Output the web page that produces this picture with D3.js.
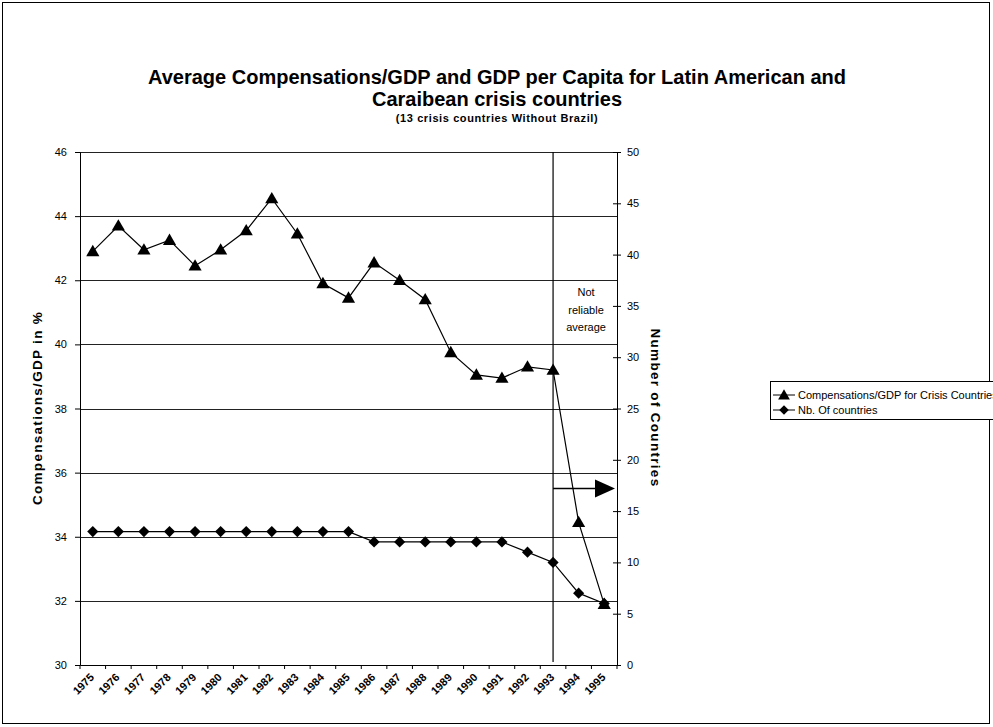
<!DOCTYPE html>
<html>
<head>
<meta charset="utf-8">
<script src="https://cdn.jsdelivr.net/npm/d3@7"></script>
<style>
  html, body { margin: 0; padding: 0; background: #fff; }
  svg { display: block; font-family: "Liberation Sans", Arial, sans-serif; }
</style>
</head>
<body>
<svg id="chart" width="993" height="727"></svg>
<script>
// ---- data ----
const years = ["1975","1976","1977","1978","1979","1980","1981","1982","1983","1984","1985",
               "1986","1987","1988","1989","1990","1991","1992","1993","1994","1995"];
const compensations = [42.9, 43.7, 42.95, 43.25, 42.45, 42.95, 43.55, 44.55, 43.45, 41.9, 41.45,
                       42.55, 42.0, 41.4, 39.75, 39.05, 38.95, 39.3, 39.2, 34.45, 31.9];
const nbCountries = [13, 13, 13, 13, 13, 13, 13, 13, 13, 13, 13,
                     12, 12, 12, 12, 12, 12, 11, 10, 7, 6];
const leftTicks = [30, 32, 34, 36, 38, 40, 42, 44, 46];
const rightTicks = [0, 5, 10, 15, 20, 25, 30, 35, 40, 45, 50];
const seriesNames = ["Compensations/GDP for Crisis Countries", "Nb. Of countries"];
const titleLines = ["Average Compensations/GDP and GDP per Capita for Latin American and",
                    "Caraibean crisis countries"];
const subtitle = "(13 crisis countries Without Brazil)";
const noteLines = ["Not", "reliable", "average"];
const noteYear = "1993";
const arrowValue = 17.2;

// ---- layout ----
const svg = d3.select("#chart");
const L = 80, R = 617, T = 152, B = 665;

const x = d3.scaleBand().domain(years).range([L, R]).padding(0);
const yL = d3.scaleLinear().domain([30, 46]).range([B, T]);
const yR = d3.scaleLinear().domain([0, 50]).range([B, T]);
const cx = d => x(d) + x.bandwidth() / 2;

// outer border
svg.append("rect").attr("x", 2.5).attr("y", 2.5).attr("width", 987).attr("height", 721)
  .attr("fill", "none").attr("stroke", "#000").attr("stroke-width", 1);

// titles
svg.append("text").attr("x", 497).attr("y", 84).attr("text-anchor", "middle")
  .attr("font-size", 20).attr("font-weight", "bold").text(titleLines[0]);
svg.append("text").attr("x", 497).attr("y", 106).attr("text-anchor", "middle")
  .attr("font-size", 20).attr("font-weight", "bold").text(titleLines[1]);
svg.append("text").attr("x", 497).attr("y", 122).attr("text-anchor", "middle")
  .attr("font-size", 11).attr("font-weight", "bold").attr("letter-spacing", 0.6).text(subtitle);

// gridlines
svg.append("g").selectAll("line").data(leftTicks.filter(d => d > 30)).join("line")
  .attr("x1", L).attr("x2", R)
  .attr("y1", d => Math.round(yL(d)) + 0.5).attr("y2", d => Math.round(yL(d)) + 0.5)
  .attr("stroke", "#222").attr("stroke-width", 1);

// left axis
const gL = svg.append("g").attr("transform", `translate(${L},0)`)
  .call(d3.axisLeft(yL).tickValues(leftTicks).tickSize(5).tickPadding(8));
gL.selectAll("text").attr("font-size", 11).attr("fill", "#000").attr("font-family", "Liberation Sans, Arial, sans-serif");
gL.select(".domain").attr("stroke", "#000");

// right axis (cross ticks)
const gR = svg.append("g").attr("transform", `translate(${R},0)`)
  .call(d3.axisRight(yR).tickValues(rightTicks).tickSize(4).tickPadding(6));
gR.selectAll(".tick line").attr("x1", -4);
gR.selectAll("text").attr("font-size", 11).attr("fill", "#000").attr("font-family", "Liberation Sans, Arial, sans-serif");
gR.select(".domain").attr("stroke", "#000");

// bottom axis
const gB = svg.append("g").attr("transform", `translate(0,${B})`)
  .call(d3.axisBottom(x).tickSize(0).tickFormat(""));
gB.select(".domain").attr("stroke", "#000");
svg.append("g").selectAll("line").data(years.concat(["end"])).join("line")
  .attr("x1", (d, i) => L + i * x.bandwidth()).attr("x2", (d, i) => L + i * x.bandwidth())
  .attr("y1", B).attr("y2", B + 4).attr("stroke", "#000");
svg.append("g").selectAll("text").data(years).join("text")
  .attr("transform", d => `translate(${cx(d) + 2},${B + 13}) rotate(-45)`)
  .attr("text-anchor", "end").attr("font-size", 11).attr("font-weight", "bold")
  .text(d => d);

// axis titles
svg.append("text").attr("transform", `translate(42,408) rotate(-90)`)
  .attr("text-anchor", "middle").attr("font-size", 13.5).attr("font-weight", "bold")
  .attr("letter-spacing", 1.3).text("Compensations/GDP in %");
svg.append("text").attr("transform", `translate(651,408) rotate(90)`)
  .attr("text-anchor", "middle").attr("font-size", 13.5).attr("font-weight", "bold")
  .attr("letter-spacing", 1.3).text("Number of Countries");

// vertical marker line and note
const xv = cx(noteYear);
svg.append("line").attr("x1", xv).attr("x2", xv).attr("y1", T).attr("y2", B - 3)
  .attr("stroke", "#000").attr("stroke-width", 1.2);
svg.append("g").selectAll("text").data(noteLines).join("text")
  .attr("x", (xv + R) / 2 + 1).attr("y", (d, i) => 296 + i * 17.5)
  .attr("text-anchor", "middle").attr("font-size", 11).text(d => d);

// arrow
const ya = yR(arrowValue);
svg.append("line").attr("x1", xv).attr("x2", R - 20).attr("y1", ya).attr("y2", ya)
  .attr("stroke", "#000").attr("stroke-width", 1.5);
svg.append("path").attr("d", `M${R - 22},${ya - 9} L${R - 2},${ya} L${R - 22},${ya + 9} Z`).attr("fill", "#000");

// series lines
const lineC = d3.line().x((d, i) => cx(years[i])).y(d => yL(d));
const lineN = d3.line().x((d, i) => cx(years[i])).y(d => yR(d));
svg.append("path").datum(nbCountries).attr("d", lineN).attr("fill", "none").attr("stroke", "#000").attr("stroke-width", 1.2);
svg.append("path").datum(compensations).attr("d", lineC).attr("fill", "none").attr("stroke", "#000").attr("stroke-width", 1.2);

const tri = d3.symbol().type(d3.symbolTriangle).size(75);
const dia = d3.symbol().type(d3.symbolSquare).size(62);
svg.append("g").selectAll("path").data(nbCountries).join("path")
  .attr("transform", (d, i) => `translate(${cx(years[i])},${yR(d)}) rotate(45)`)
  .attr("d", dia).attr("fill", "#000");
svg.append("g").selectAll("path").data(compensations).join("path")
  .attr("transform", (d, i) => `translate(${cx(years[i])},${yL(d) + 1})`)
  .attr("d", tri).attr("fill", "#000");

// legend (extends past the right edge, as in the reference)
const lg = svg.append("g");
lg.append("rect").attr("x", 770.5).attr("y", 381.5).attr("width", 240).attr("height", 38)
  .attr("fill", "#fff").attr("stroke", "#000");
const triL = d3.symbol().type(d3.symbolTriangle).size(60);
const diaL = d3.symbol().type(d3.symbolSquare).size(45);
const rows = [{ y: 395, sym: triL, rot: 0, dy: 1 }, { y: 410, sym: diaL, rot: 45, dy: 0 }];
rows.forEach((r, i) => {
  lg.append("line").attr("x1", 773).attr("x2", 795).attr("y1", r.y).attr("y2", r.y).attr("stroke", "#000");
  lg.append("path").attr("transform", `translate(784,${r.y + r.dy}) rotate(${r.rot})`)
    .attr("d", r.sym).attr("fill", "#000");
  lg.append("text").attr("x", 798).attr("y", r.y + 4).attr("font-size", 11).text(seriesNames[i]);
});
</script>
</body>
</html>
